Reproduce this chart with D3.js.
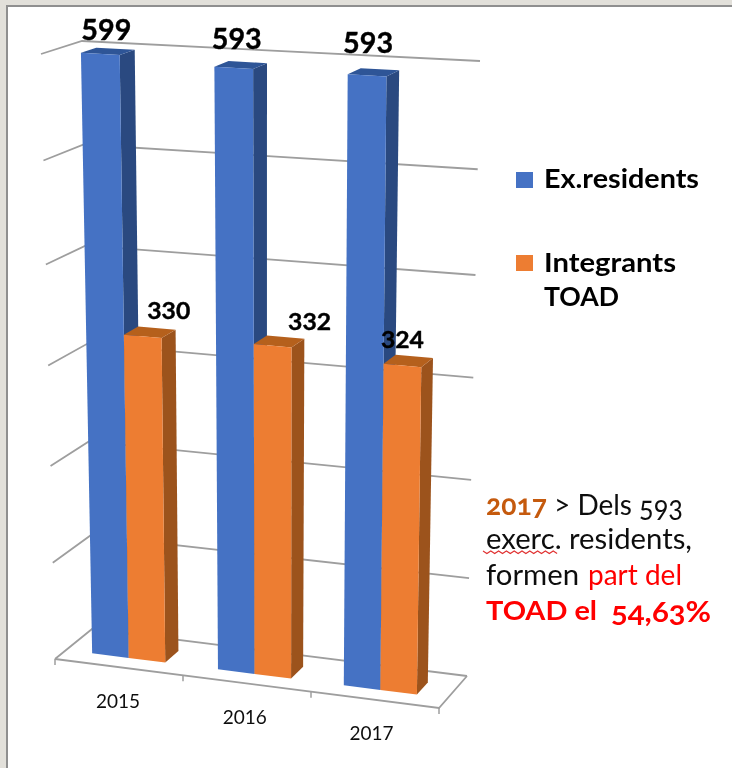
<!DOCTYPE html>
<html>
<head>
<meta charset="utf-8">
<script src="https://cdn.jsdelivr.net/npm/d3@7"></script>
<style>
  html, body { margin: 0; padding: 0; background: #fff; }
  text { font-family: Lato, "Open Sans", sans-serif; }
  .old { font-feature-settings: "onum"; font-variant-numeric: oldstyle-nums; }
</style>
</head>
<body>
<div id="chart"></div>
<script>
// values
const years = ["2015", "2016", "2017"];
const seriesNames = ["Ex.residents", "Integrants TOAD"];
const exResidents = [599, 593, 593];
const integrants = [330, 332, 324];
const yTicks = [0, 100, 200, 300, 400, 500, 600];
// how far up the wall each tick sits (the 3d view squeezes the lower part)
const yTickHeights = [0, 0.159, 0.319, 0.485, 0.652, 0.824, 1];

const colors = {
  blue: "#4472c4", blueTop: "#2f5597", blueSide: "#2a4a80",
  orange: "#ed7d31", orangeTop: "#b5601f", orangeSide: "#9c531c"
};

let svg = d3.select("#chart").append("svg")
  .attr("width", 732)
  .attr("height", 768);

let defs = svg.append("defs");
defs.append("filter").attr("id", "soft")
  .append("feGaussianBlur").attr("stdDeviation", 0.6);

svg.append("rect").attr("width", 732).attr("height", 768).attr("fill", "#e2e0da");
svg.append("rect").attr("x", 7).attr("y", 6).attr("width", 740).attr("height", 780)
  .attr("fill", "#fff").attr("stroke", "#8f8f8f").attr("stroke-width", 2);

let root = svg.append("g").attr("filter", "url(#soft)");

// box corners of the 3d chart on screen
let frontBottomX = d3.scaleLinear().domain([0, 3]).range([55, 439]);
let frontBottomY = d3.scaleLinear().domain([0, 3]).range([659, 708]);
let backBottomX = d3.scaleLinear().domain([0, 3]).range([92, 467]);
let backBottomY = d3.scaleLinear().domain([0, 3]).range([629, 676]);
let frontTopX = d3.scaleLinear().domain([0, 3]).range([41, 448]);
let frontTopY = d3.scaleLinear().domain([0, 3]).range([54, 78]);
let backTopX = d3.scaleLinear().domain([0, 3]).range([82, 480]);
let backTopY = d3.scaleLinear().domain([0, 3]).range([41, 61]);

let yHeight = d3.scaleLinear().domain(yTicks).range(yTickHeights);

// u = position along the categories 0..3, d = depth 0 (front)..1 (back), v = value
function project(u, d, v) {
  let h = yHeight(v);
  let bx = d3.interpolateNumber(frontBottomX(u), backBottomX(u))(d);
  let by = d3.interpolateNumber(frontBottomY(u), backBottomY(u))(d);
  let tx = d3.interpolateNumber(frontTopX(u), backTopX(u))(d);
  let ty = d3.interpolateNumber(frontTopY(u), backTopY(u))(d);
  return [bx + (tx - bx) * h, by + (ty - by) * h];
}

let poly = d3.line();

let x0 = d3.scaleBand().domain(years).range([0, 2.965]).paddingInner(0.419).paddingOuter(0.207);
let x1 = d3.scaleBand().domain(seriesNames).range([0, x0.bandwidth()]);

const depthFront = 0.3, depthBack = 0.68;

// gridlines on the two walls
let g = root.append("g").attr("class", "walls");
g.selectAll("path.grid")
  .data(yTicks)
  .enter()
  .append("path")
  .attr("class", "grid")
  .attr("d", (v) => poly([project(0, 0, v), project(0, 1, v), project(3, 1, v)]))
  .attr("fill", "none")
  .attr("stroke", "#9e9e9e")
  .attr("stroke-width", 1.8);

// floor edges and category ticks
g.append("path")
  .attr("d", poly([project(0, 0, 0), project(3, 0, 0), project(3, 1, 0)]))
  .attr("fill", "none")
  .attr("stroke", "#9e9e9e")
  .attr("stroke-width", 1.8);

g.selectAll("path.tick")
  .data(d3.range(0, 4))
  .enter()
  .append("path")
  .attr("class", "tick")
  .attr("d", (u) => {
    let p = project(u, 0, 0);
    return poly([p, [p[0], p[1] + 6]]);
  })
  .attr("stroke", "#9e9e9e")
  .attr("stroke-width", 1.5);

// bars, left to right so the orange covers the blue side
let bars = [];
years.forEach((year, i) => {
  bars.push({ year: year, name: seriesNames[0], value: exResidents[i], face: colors.blue, top: colors.blueTop, side: colors.blueSide });
  bars.push({ year: year, name: seriesNames[1], value: integrants[i], face: colors.orange, top: colors.orangeTop, side: colors.orangeSide });
});

let barG = root.selectAll("g.bar")
  .data(bars)
  .enter()
  .append("g")
  .attr("class", "bar");

barG.append("path")
  .attr("fill", (d) => d.side)
  .attr("d", (d) => {
    let r = x0(d.year) + x1(d.name) + x1.bandwidth();
    return poly([project(r, depthFront, 0), project(r, depthBack, 0), project(r, depthBack, d.value), project(r, depthFront, d.value)]) + "Z";
  });

barG.append("path")
  .attr("fill", (d) => d.top)
  .attr("d", (d) => {
    let l = x0(d.year) + x1(d.name);
    let r = l + x1.bandwidth();
    return poly([project(l, depthFront, d.value), project(r, depthFront, d.value), project(r, depthBack, d.value), project(l, depthBack, d.value)]) + "Z";
  });

barG.append("path")
  .attr("fill", (d) => d.face)
  .attr("d", (d) => {
    let l = x0(d.year) + x1(d.name);
    let r = l + x1.bandwidth();
    return poly([project(l, depthFront, 0), project(r, depthFront, 0), project(r, depthFront, d.value), project(l, depthFront, d.value)]) + "Z";
  });

// nudges for the value labels, same order as the bars, they were hand placed
const labelDx = [6, 26, 3, 37, 1, 0];
const labelDy = [-13, -16, -18, -14, -21, -16];

// value labels above the bars
let labelG = root.append("g").attr("class", "labels");
labelG.selectAll("text")
  .data(bars)
  .enter()
  .append("text")
  .attr("text-anchor", "middle")
  .attr("font-weight", 700)
  .attr("fill", "#000")
  .attr("stroke", "#000")
  .attr("stroke-width", 0.4)
  .attr("font-size", (d) => d.name === seriesNames[0] ? 29 : 23)
  .attr("textLength", (d) => d.name === seriesNames[0] ? 50 : 43)
  .attr("lengthAdjust", "spacingAndGlyphs")
  .attr("x", (d, i) => project(x0(d.year) + x1(d.name) + x1.bandwidth() / 2, depthFront, d.value)[0] + labelDx[i])
  .attr("y", (d, i) => project(x0(d.year) + x1(d.name), depthFront, d.value)[1] + labelDy[i])
  .text((d) => d.value);

// category labels under the front edge
root.selectAll("text.year")
  .data(years)
  .enter()
  .append("text")
  .attr("class", "year")
  .attr("text-anchor", "middle")
  .attr("font-size", 19)
  .attr("fill", "#111")
  .attr("x", (d) => project(x0(d) + x0.bandwidth() / 2, 0, 0)[0])
  .attr("y", (d) => project(x0(d) + x0.bandwidth() / 2, 0, 0)[1] + 41)
  .text((d) => d);

// helper for text that has to fill a given width
function addText(parent, str, x, y, width, fill, weight, size) {
  return parent.append("text")
    .attr("x", x)
    .attr("y", y)
    .attr("textLength", width)
    .attr("lengthAdjust", "spacingAndGlyphs")
    .attr("fill", fill)
    .attr("font-weight", weight)
    .attr("font-size", size)
    .text(str);
}

// legend
let legend = root.append("g").attr("class", "legend");
legend.append("rect").attr("x", 516).attr("y", 172).attr("width", 17).attr("height", 16).attr("fill", colors.blue);
addText(legend, seriesNames[0], 544, 188, 155, "#000", 700, 27);
legend.append("rect").attr("x", 516).attr("y", 255).attr("width", 17).attr("height", 16).attr("fill", colors.orange);
addText(legend, "Integrants", 544, 272, 132, "#000", 700, 27);
addText(legend, "TOAD", 544, 306, 75, "#000", 700, 27);

// note on the right
let note = root.append("g").attr("class", "note");
addText(note, "2017", 486, 515, 61, "#c55a11", 700, 28).attr("class", "old");
addText(note, "> Dels", 554, 515, 78, "#111", 400, 28);
addText(note, "593", 639, 517, 44, "#111", 400, 28).attr("class", "old");
addText(note, "exerc. residents,", 486, 549, 206, "#111", 400, 28);
addText(note, "formen", 486, 585, 93, "#111", 400, 28);
addText(note, "part del", 588, 585, 94, "#f00", 400, 28);
addText(note, "TOAD el", 486, 620, 111, "#f00", 700, 27);
addText(note, "54,63%", 611, 622, 100, "#f00", 700, 29).attr("class", "old");

// spell check squiggle under exerc.
let squiggle = d3.range(0, 20).map((i) => [483 + i * 3.9, 551 + (i % 2) * 2.5]);
note.append("path").attr("d", poly(squiggle)).attr("fill", "none").attr("stroke", "#e03030").attr("stroke-width", 1.1);
</script>
</body>
</html>
